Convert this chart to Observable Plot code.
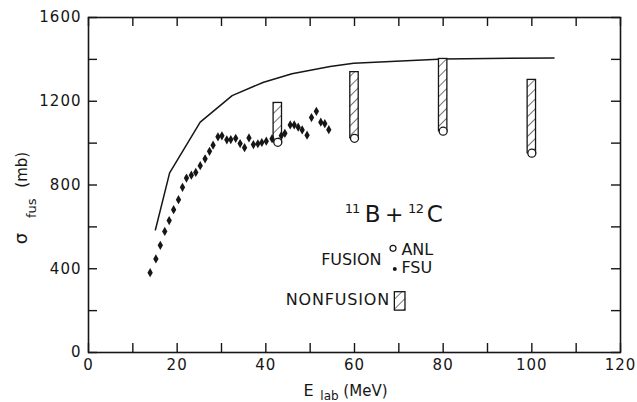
<!DOCTYPE html>
<html><head><meta charset="utf-8">
<script src="https://cdn.jsdelivr.net/npm/d3@7"></script>
<script src="https://cdn.jsdelivr.net/npm/@observablehq/plot@0.6"></script>
<style>
body{margin:0;background:#fff}
svg{display:block}
g[aria-label="x-axis tick label"] text, g[aria-label="y-axis tick label"] text{letter-spacing:1px}
</style>
</head><body><div id="chart"></div>
<script>
// FSU fusion data (E_lab MeV, sigma mb)
const fsuE = [13.9,15.2,16.2,17.2,18.2,19.2,20.3,21.2,22.1,23.2,24.2,25.2,26.3,27.3,28.1,29.2,30.1,31.2,32.1,33.2,34.2,35.2,36.2,37.2,38.2,39.1,40.1,41.4,43.5,44.3,45.5,46.4,47.3,48.2,49.3,50.3,51.4,52.4,53.3,54.2];
const fsuSigma = [381,447,512,578,630,682,730,789,833,847,860,892,925,961,990,1030,1035,1016,1017,1023,998,978,1025,993,997,1003,1009,1021,1036,1047,1087,1087,1076,1063,1038,1122,1152,1100,1093,1064];
// ANL fusion data
const anlE = [42.7,60,80,100];
const anlSigma = [1004,1023,1057,952];
// Nonfusion (top of hatched bar)
const nonfusionTop = [1192,1339,1402,1302];
// Calculated curve
const curveE = [15.1,18.3,25.2,32.4,39.5,45.9,54.5,59.8,80.1,105];
const curveSigma = [586,858,1100,1227,1291,1331,1366,1382,1402,1407];
// Ticks
const xTicks = [0,10,20,30,40,50,60,70,80,90,100,110,120];
const xTickLabels = [0,20,40,60,80,100,120];
const yTicks = [0,200,400,600,800,1000,1200,1400,1600];
const yTickLabels = [0,400,800,1200,1600];

const fsu = fsuE.map((E,i)=>({E, sigma: fsuSigma[i]}));
const anl = anlE.map((E,i)=>({E, sigma: anlSigma[i]}));
const bars = anlE.map((E,i)=>({E, lo: anlSigma[i], hi: nonfusionTop[i]}));
const curve = curveE.map((E,i)=>({E, sigma: curveSigma[i]}));

const W=637, H=402, mL=88, mR=17, mT=17, mB=50;
const pw = W-mL-mR, ph = H-mT-mB, tl = 9;
const ink = "#161616";

const plot = Plot.plot({
  width: W, height: H,
  marginLeft: mL, marginRight: mR, marginTop: mT, marginBottom: mB,
  style: {fontFamily: "DejaVu Sans", fontSize: "15px", background: "white", color: ink},
  x: {domain: [0,120]},
  y: {domain: [0,1600]},
  marks: [
    Plot.frame({stroke: ink, strokeWidth: 1.6}),
    Plot.tickX(xTicks, {x: d=>d, insetTop: ph-tl, stroke: ink, strokeWidth: 1.4}),
    Plot.tickX(xTicks, {x: d=>d, insetBottom: ph-tl, stroke: ink, strokeWidth: 1.4}),
    Plot.tickY(yTicks, {y: d=>d, insetRight: pw-tl, stroke: ink, strokeWidth: 1.4}),
    Plot.tickY(yTicks, {y: d=>d, insetLeft: pw-tl, stroke: ink, strokeWidth: 1.4}),
    Plot.axisX({ticks: xTickLabels, tickSize: 0, tickPadding: 7, label: null, tickFormat: d=>String(d), fontSize: 15}),
    Plot.axisY({ticks: yTickLabels, tickSize: 0, tickPadding: 7, label: null, tickFormat: d=>String(d), fontSize: 15}),
    Plot.line(curve, {x: "E", y: "sigma", stroke: ink, strokeWidth: 1.5}),
    Plot.rect(bars, {x1: "E", x2: "E", y1: "lo", y2: "hi", insetLeft: -4.2, insetRight: -4.2, fill: "url(#hatch)", stroke: ink, strokeWidth: 1.3}),
    Plot.dot(fsu, {x: "E", y: "sigma", symbol: "diamond", r: 2.8, fill: ink, stroke: "none"}),
    Plot.dot(anl, {x: "E", y: "sigma", r: 4, fill: "white", stroke: ink, strokeWidth: 1.3})
  ]
});

const svg = d3.select(plot);
const defs = svg.insert("defs", ":first-child");
const pat = defs.append("pattern").attr("id","hatch").attr("patternUnits","userSpaceOnUse")
  .attr("width",7).attr("height",7).attr("patternTransform","rotate(45)");
pat.append("rect").attr("width",7).attr("height",7).attr("fill","white");
pat.append("line").attr("x1",0).attr("y1",0).attr("x2",0).attr("y2",7).attr("stroke",ink).attr("stroke-width",1.2);

const xs = plot.scale("x"), ys = plot.scale("y");
const X = v => xs.apply(v), Y = v => ys.apply(v);
const ann = svg.append("g").attr("font-family","DejaVu Sans").attr("fill",ink).attr("text-anchor","start");

function t(x, y, s, size, opts={}) {
  const e = ann.append("text").attr("x", x).attr("y", y).attr("font-size", size).text(s);
  for (const k in opts) e.attr(k, opts[k]);
  return e;
}
// Reaction label 11B + 12C
t(X(57.9), Y(664), "11", 13, {"letter-spacing":"-1px"});
t(X(62.4), Y(622), "B", 23);
t(X(67.0), Y(622), "+", 22);
t(X(72.2), Y(664), "12", 13, {"letter-spacing":"-0.5px"});
t(X(76.4), Y(622), "C", 23);

// Legend
t(X(66.2), Y(415), "FUSION", 16, {"text-anchor":"end"});
ann.append("circle").attr("cx", X(68.8)).attr("cy", Y(495)).attr("r", 3).attr("fill","white").attr("stroke",ink).attr("stroke-width",1.2);
t(X(70.7), Y(463), "ANL", 16);
ann.append("circle").attr("cx", X(69.2)).attr("cy", Y(396)).attr("r", 2).attr("fill",ink);
t(X(70.7), Y(377), "FSU", 16);
t(X(68.1), Y(224), "NONFUSION", 16, {"text-anchor":"end", "letter-spacing":"0.8px"});
ann.append("rect").attr("x", X(69.1)).attr("y", Y(288)).attr("width", X(71.5)-X(69.1)).attr("height", Y(200)-Y(288))
  .attr("fill","url(#hatch)").attr("stroke",ink).attr("stroke-width",1.3);

// Y axis label (rotated)
t(0, 0, "σ", 18, {transform: `translate(27,${Y(515)}) rotate(-90)`});
t(0, 0, "fus", 13, {transform: `translate(36,${Y(640)}) rotate(-90)`});
t(0, 0, "(mb)", 15, {transform: `translate(27,${Y(785)}) rotate(-90)`});

// X axis label
t(X(48.6), 396, "E", 16);
t(X(52.4), 400, "lab", 12);
t(X(57.6), 396, "(MeV)", 15);

document.getElementById("chart").appendChild(plot);
</script>
</body></html>
